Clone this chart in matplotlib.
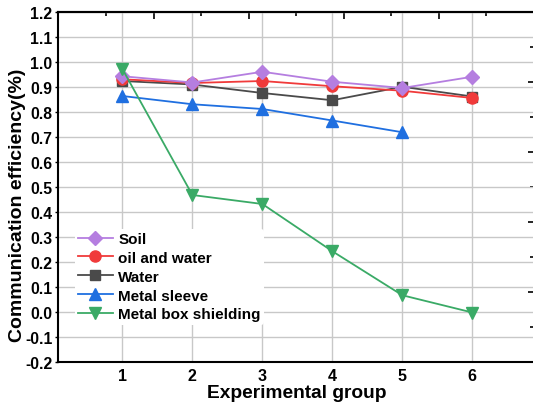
import numpy as np
import matplotlib.pyplot as plt

plt.rcParams['font.family'] = ['Liberation Sans', 'DejaVu Sans']
plt.rcParams['font.weight'] = 'bold'

groups = [1, 2, 3, 4, 5, 6]
soil = [0.943, 0.918, 0.961, 0.921, 0.896, 0.941]
oil_water = [0.931, 0.916, 0.924, 0.903, 0.885, 0.856]
water = [0.924, 0.910, 0.876, 0.847, 0.901, 0.862]
sleeve = [0.864, 0.831, 0.812, 0.766, 0.719]
box = [0.972, 0.468, 0.432, 0.243, 0.067, -0.002]

fig = plt.figure(figsize=(5.33, 4.06), dpi=100)
ax = fig.add_axes([58 / 533, 43 / 406, 478 / 533, 350 / 406])

lw = 1.3
l_water, = ax.plot(groups, water, color='#4a4a4a', marker='s', ms=7, lw=lw, label='Water')
l_oil, = ax.plot(groups, oil_water, color='#f03a3a', marker='o', ms=8, lw=lw, label='oil and water')
l_sleeve, = ax.plot(groups[:5], sleeve, color='#1f6fe0', marker='^', ms=8, lw=lw, label='Metal sleeve')
l_soil, = ax.plot(groups, soil, color='#b57ee0', marker='D', ms=7, lw=lw, label='Soil')
l_box, = ax.plot(groups, box, color='#3aaa66', marker='v', ms=8, lw=lw, label='Metal box shielding')

ax.set_xlim(0.08, 6.91)
ax.set_ylim(-0.2, 1.2)
ax.set_xticks(groups)
ax.set_yticks(np.round(np.arange(-0.2, 1.21, 0.1), 1))
ax.set_yticklabels(['%.1f' % v for v in np.arange(-0.2, 1.21, 0.1)])
ax.grid(True, color='#c8c8c8', lw=1.0)
ax.set_axisbelow(True)
ax.tick_params(axis='y', direction='out', length=2.5, width=1, labelsize=11.3, pad=1.5)
ax.tick_params(axis='x', length=0, labelsize=11.5, pad=4)
for s in ['left', 'bottom', 'top']:
    ax.spines[s].set_linewidth(1.5)
ax.spines['right'].set_visible(False)

# extra inward ticks on top and right edges
top = ax.secondary_xaxis('top')
top.set_xticks(np.arange(1.447, 6.9, 1.357))
top.set_xticks(np.arange(0.769, 6.9, 1.357), minor=True)
top.tick_params(which='major', direction='in', length=5, width=1.2, labeltop=False)
top.tick_params(which='minor', direction='in', length=3, width=1.2)
top.spines['top'].set_linewidth(1.5)

right = ax.secondary_yaxis('right')
right.set_yticks([0.92, 0.64, 0.36, 0.08])
right.set_yticks([1.06, 0.78, 0.50, 0.22, -0.06], minor=True)
right.tick_params(which='major', direction='in', length=6, width=1.2, labelright=False)
right.tick_params(which='minor', direction='in', length=4, width=1.2)

ax.set_xlabel('Experimental group', fontsize=13.8, fontweight='bold')
ax.xaxis.set_label_coords(0.5, -0.064)
ax.set_ylabel('Communication efficiency(%)', fontsize=14, fontweight='bold')
ax.yaxis.set_label_coords(-0.066, 0.451)

leg = ax.legend(handles=[l_soil, l_oil, l_water, l_sleeve, l_box], loc='lower left',
                bbox_to_anchor=(0.035, 0.107), fontsize=11, frameon=True, framealpha=1,
                edgecolor='none', facecolor='white', handlelength=2.3, handletextpad=0.35,
                labelspacing=0.32, borderpad=0.2, borderaxespad=0)
for t in leg.get_texts():
    t.set_fontweight('bold')

fig.savefig('out.png', dpi=100)
